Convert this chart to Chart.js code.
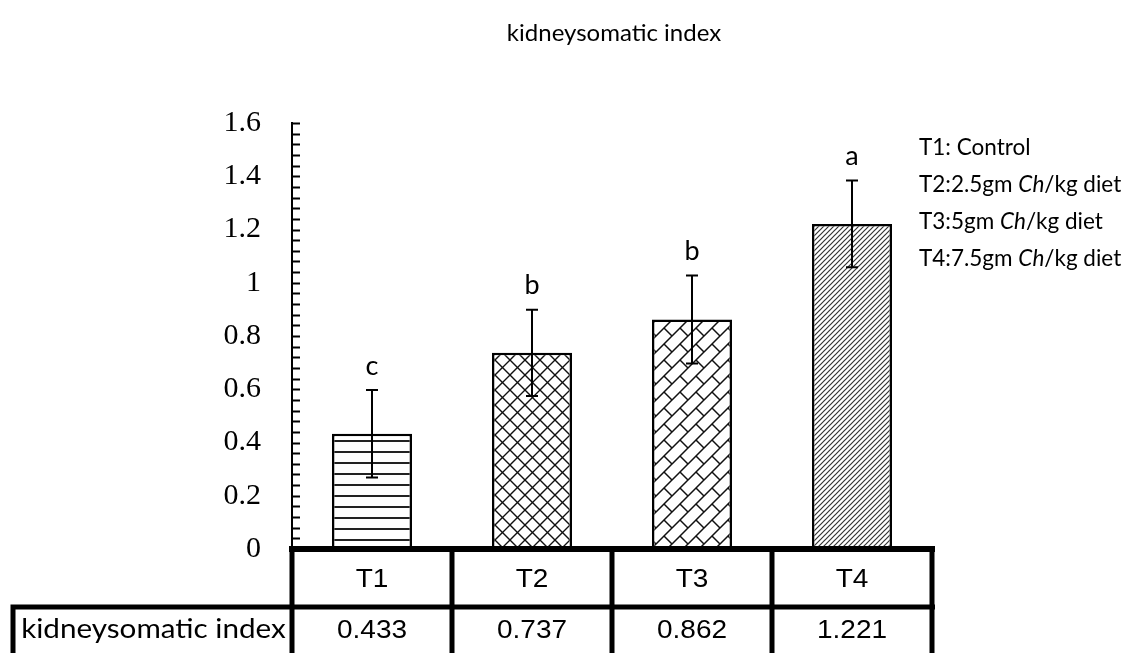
<!DOCTYPE html>
<html>
<head>
<meta charset="utf-8">
<title>kidneysomatic index</title>
<script src="https://cdn.jsdelivr.net/npm/chart.js@4.4.1/dist/chart.umd.min.js"></script>
<style>
  html, body { margin: 0; padding: 0; background: #fff; }
  #chart-bar { display: block; }
</style>
</head>
<body>
<canvas id="chart-bar" width="1140" height="653"></canvas>
<script>
const treatments = ['T1', 'T2', 'T3', 'T4'];
const kidneyIndex = [0.433, 0.737, 0.862, 1.221];
const standardError = [0.164, 0.162, 0.165, 0.163];
const groupLetters = ['c', 'b', 'b', 'a'];
const yMax = 1.6;
const yStep = 0.2;
const yMinorStep = 0.04;
const chartTitle = 'kidneysomatic index';
const rowLabel = 'kidneysomatic index';
// [plain, italic, plain]
const treatmentNotes = [
  ['T1: Control', '', ''],
  ['T2:2.5gm ', 'Ch', '/kg diet'],
  ['T3:5gm ', 'Ch', '/kg diet'],
  ['T4:7.5gm ', 'Ch', '/kg diet']
];

const SANS = 'Lato, "Open Sans", sans-serif';
const TABLE_SX = 1.12;

function makePattern(size, draw) {
  const tile = document.createElement('canvas');
  tile.width = size;
  tile.height = size;
  const g = tile.getContext('2d');
  g.fillStyle = '#fff';
  g.fillRect(0, 0, size, size);
  g.strokeStyle = '#111';
  g.fillStyle = '#222';
  draw(g, size);
  return g.createPattern(tile, 'repeat');
}

// lines x + y = c
function slashLines(g, s) {
  g.beginPath();
  for (let k = -1; k <= 1; k++) {
    g.moveTo(-s + k * s, 2 * s);
    g.lineTo(2 * s + k * s, -s);
  }
  g.stroke();
}

// lines x - y = c
function backslashLines(g, s) {
  g.beginPath();
  for (let k = -1; k <= 1; k++) {
    g.moveTo(-s + k * s, -s);
    g.lineTo(2 * s + k * s, 2 * s);
  }
  g.stroke();
}

const fills = [
  makePattern(11, (g, s) => g.fillRect(0, 0, s, 2)),
  makePattern(15, (g, s) => {
    g.lineWidth = 1.4;
    slashLines(g, s);
    backslashLines(g, s);
  }),
  makePattern(16, (g, s) => {
    g.lineWidth = 1.5;
    slashLines(g, s);
    g.beginPath();
    g.moveTo(s / 2, s / 2);
    g.lineTo(s, s);
    g.stroke();
  }),
  makePattern(5, (g, s) => {
    g.lineWidth = 1.2;
    g.strokeStyle = '#333';
    slashLines(g, s);
  })
];

function stretchedText(ctx, text, cx, cy, sx) {
  ctx.save();
  ctx.translate(cx, cy);
  ctx.scale(sx, 1);
  ctx.fillText(text, 0, 0);
  ctx.restore();
}

const decorations = {
  id: 'decorations',
  afterDatasetsDraw(chart) {
    const { ctx, chartArea, scales: { y } } = chart;
    const bars = chart.getDatasetMeta(0).data;

    ctx.save();
    ctx.strokeStyle = '#000';
    ctx.fillStyle = '#000';
    ctx.lineWidth = 2;

    // error bars and significance letters
    bars.forEach((bar, i) => {
      const top = y.getPixelForValue(kidneyIndex[i] + standardError[i]);
      const bottom = y.getPixelForValue(kidneyIndex[i] - standardError[i]);
      ctx.beginPath();
      ctx.moveTo(bar.x, top);
      ctx.lineTo(bar.x, bottom);
      ctx.moveTo(bar.x - 6, top);
      ctx.lineTo(bar.x + 6, top);
      ctx.moveTo(bar.x - 6, bottom);
      ctx.lineTo(bar.x + 6, bottom);
      ctx.stroke();

      ctx.font = '27px ' + SANS;
      ctx.textAlign = 'center';
      ctx.textBaseline = 'middle';
      ctx.fillText(groupLetters[i], bar.x, top - 24);
    });

    // tick marks on the inner side of the value axis
    const n = Math.round(yMax / yMinorStep);
    ctx.beginPath();
    for (let k = 0; k <= n; k++) {
      const py = Math.round(y.getPixelForValue(k * yMinorStep)) + 0.5;
      ctx.moveTo(chartArea.left, py);
      ctx.lineTo(chartArea.left + 8, py);
    }
    ctx.stroke();
    ctx.restore();
  },
  afterDraw(chart) {
    const { ctx, chartArea, scales: { x, y } } = chart;
    const cell = x.getPixelForTick(1) - x.getPixelForTick(0);
    const top = y.getPixelForValue(0);
    const rowSplit = top + 58;
    const bottom = chart.height;
    const right = chartArea.right;

    ctx.save();
    ctx.fillStyle = '#000';

    // title
    ctx.font = '24px ' + SANS;
    ctx.textAlign = 'center';
    ctx.textBaseline = 'middle';
    ctx.fillText(chartTitle, 614, 33);

    // treatment notes
    ctx.textAlign = 'left';
    treatmentNotes.forEach((parts, i) => {
      let px = 919;
      const py = 148 + i * 37;
      parts.forEach((part, j) => {
        if (!part) return;
        ctx.font = (j === 1 ? 'italic ' : '') + '22.5px ' + SANS;
        ctx.fillText(part, px, py);
        px += ctx.measureText(part).width;
      });
    });

    // data table under the axis
    ctx.strokeStyle = '#000';
    ctx.lineWidth = 6;
    ctx.beginPath();
    ctx.moveTo(chartArea.left - 3, top);
    ctx.lineTo(right + 3, top);
    ctx.stroke();

    ctx.lineWidth = 5;
    ctx.beginPath();
    ctx.moveTo(13, rowSplit);
    ctx.lineTo(right + 3, rowSplit);
    ctx.moveTo(13, rowSplit - 2.5);
    ctx.lineTo(13, bottom);
    for (let i = 0; i <= treatments.length; i++) {
      const cx = chartArea.left + i * cell;
      ctx.moveTo(cx, top);
      ctx.lineTo(cx, bottom);
    }
    ctx.stroke();

    ctx.textAlign = 'center';
    ctx.textBaseline = 'middle';
    treatments.forEach((t, i) => {
      const cx = x.getPixelForTick(i);
      ctx.font = '25px "Liberation Sans", Arial, sans-serif';
      stretchedText(ctx, t, cx, (top + rowSplit) / 2 + 2, TABLE_SX);
      stretchedText(ctx, kidneyIndex[i].toFixed(3), cx, (rowSplit + bottom) / 2 + 1, TABLE_SX);
    });
    ctx.font = '26px ' + SANS;
    stretchedText(ctx, rowLabel, (13 + chartArea.left) / 2 + 1, (rowSplit + bottom) / 2, 1.14);
    ctx.restore();
  }
};

function drawChart() {
  const ctx = document.getElementById('chart-bar');

  new Chart(ctx, {
    type: 'bar',
    data: {
      labels: treatments,
      datasets: [
        {
          label: rowLabel,
          data: kidneyIndex,
          backgroundColor: fills,
          borderColor: '#000',
          borderWidth: 2.5,
          borderSkipped: false,
          barPercentage: 0.5,
          categoryPercentage: 1
        }
      ]
    },
    options: {
      responsive: false,
      animation: false,
      devicePixelRatio: 1,
      layout: {
        padding: { left: 0, top: 123, right: 208, bottom: 104 }
      },
      plugins: {
        legend: { display: false },
        title: { display: false },
        tooltip: { enabled: false }
      },
      scales: {
        x: {
          display: false
        },
        y: {
          min: 0,
          max: yMax,
          afterFit: scale => { scale.width = 292; },
          grid: {
            drawOnChartArea: false,
            drawTicks: false
          },
          border: {
            display: true,
            color: '#000',
            width: 2
          },
          ticks: {
            stepSize: yStep,
            padding: 31,
            color: '#000',
            font: { family: '"Liberation Serif", "Times New Roman", serif', size: 30 },
            callback: v => String(Math.round(v * 10) / 10)
          }
        }
      }
    },
    plugins: [decorations]
  });
}

Promise.all([
  '25px Lato',
  'italic 25px Lato',
  '30px "Liberation Serif"',
  '25px "Liberation Sans"'
].map(f => document.fonts.load(f))).then(drawChart, drawChart);
</script>
</body>
</html>
